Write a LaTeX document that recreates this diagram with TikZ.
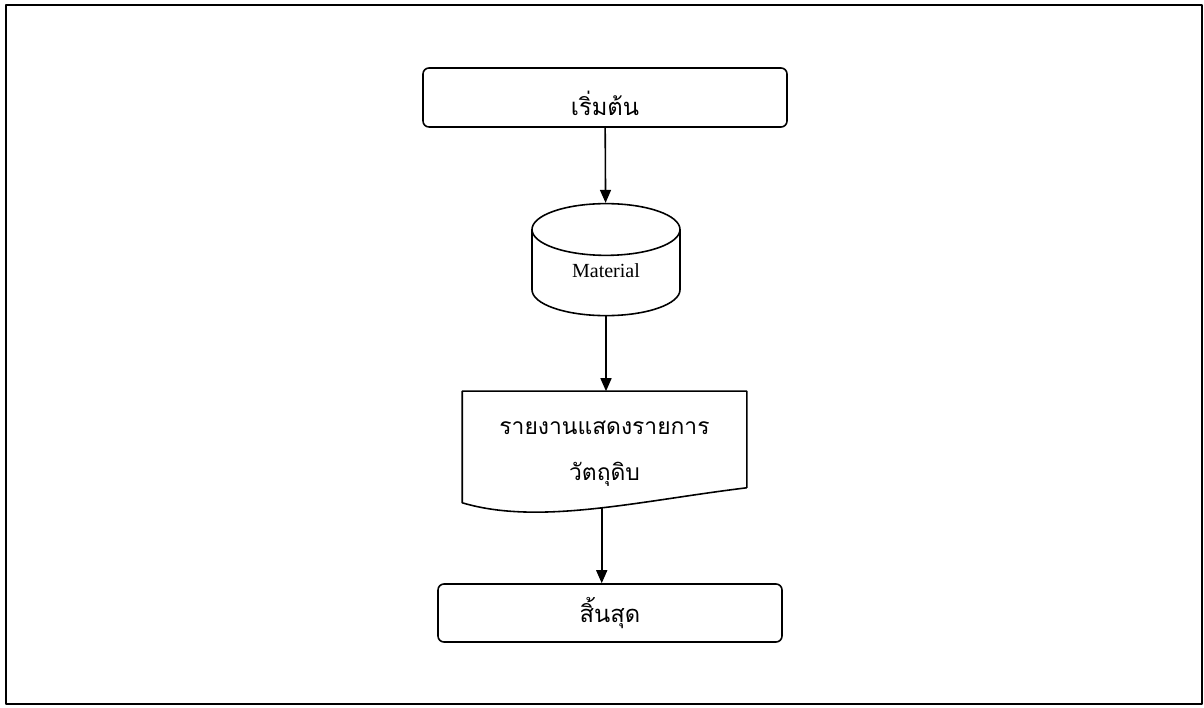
\documentclass[tikz,border=0pt]{standalone}
\usepackage{fontspec}
\setmainfont{Liberation Serif}
\newfontfamily\thaifont[Script=Thai]{Loma}
\usetikzlibrary{arrows.meta,shapes.geometric,calc}

\begin{document}
\begin{tikzpicture}[>={Triangle[width=0.22cm,length=0.26cm]},line join=round,line width=0.9pt,
	term/.style={draw,rounded corners=0.12cm,minimum height=1.18cm,font=\thaifont\fontsize{13.5}{16}\selectfont},
	drum/.style={draw,cylinder,shape border rotate=90,aspect=0.65,minimum width=2.96cm,minimum height=2.24cm,font=\fontsize{11.4}{13}\selectfont},
	doc/.style={minimum width=5.66cm,minimum height=2.2cm},
	doctext/.style={align=center,font=\thaifont\fontsize{13}{26}\selectfont}]
			\useasboundingbox (0,0) rectangle (24.08,14.14);
			\draw (0.12,0.06) rectangle (24.04,14.04);
			\node[term,minimum width=7.28cm] (start) at (12.10,12.19) {\raisebox{-0.12cm}[\height][\depth]{เริ่มต้น}};
			\node[drum] (material) at (12.12,8.58) {\raisebox{0.14cm}[\height][\depth]{Material}};
			\node[doc] (report) at (12.09,5.20) {};
			\node[doctext] (reportText) at ($(report)+(0,-0.13)$) {รายงานแสดงรายการ\\วัตถุดิบ};
			\node[term,minimum width=6.88cm,minimum height=1.16cm] (finish) at (12.20,1.88) {สิ้นสุด};
			\draw ($(report.south east)+(0,0.3)$) -- (report.north east) -- (report.north west) -- (report.south west)
				.. controls ($(report.south west)+(1.54,-0.46)$) and ($(report.south west)+(3.54,0.04)$) .. ($(report.south east)+(0,0.3)$) coordinate[pos=0.53] (wave);
			\draw[->] (start) -- (material);
			\draw[->] (material.south) -- (material.south |- report.north);
			\draw[->] (wave) -- (wave |- finish.north);
		\end{tikzpicture}
\end{document}
